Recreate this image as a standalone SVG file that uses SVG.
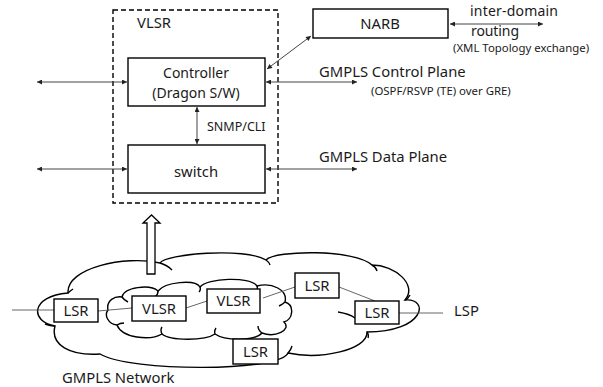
<svg xmlns="http://www.w3.org/2000/svg" width="603" height="387" viewBox="0 0 603 387">
<style>
text{font-family:"Noto Sans","Liberation Sans",sans-serif;fill:#1a1a1a}
.t14{font-size:14.8px}
.t14s{font-size:14px}
.t12{font-size:12.5px}
.t11{font-size:11.4px}
.mid{text-anchor:middle}
.box{fill:#fff;stroke:#000;stroke-width:1.4}
.conn{stroke:#444;stroke-width:1;fill:none}
.cloud{fill:#fff;stroke:#000;stroke-width:1.4}
.hook{fill:none;stroke:#000;stroke-width:1.4}
.link{stroke:#555;stroke-width:0.9;fill:none}
</style>
<defs>
<marker id="ah" viewBox="0 0 10 10" refX="10" refY="5" markerWidth="6" markerHeight="5" markerUnits="userSpaceOnUse" orient="auto-start-reverse"><path d="M0,0 L10,5 L0,10 z" fill="#222"/></marker>
</defs>

<g id="vlsr-frame">
<rect x="113" y="10" width="165" height="193" fill="none" stroke="#000" stroke-width="1.4" stroke-dasharray="5,3"/>
<text class="t14" x="137" y="28">VLSR</text>
</g>

<g id="network">
<path class="cloud" d="M55,326 C30,322 30,296 68,293 C66,268 125,255 160,263 C165,254 245,247 266,260 C275,250 355,249 372,265 C395,265 418,285 405,300 C430,298 425,332 367,332 C368,350 320,360 288,353 C280,372 130,372 100,354 C70,356 50,345 55,326 Z"/>
<path class="hook" d="M160,263 Q167,265 172,270 M68,293 Q70,291 73,289 M266,260 Q269,262 270,265 M372,265 Q376,267 377,271 M405,300 Q408,299 410,295 M338,312 Q350,314 355,318 M367,332 Q369,335 368,338 M288,353 Q291,350 292,346 M55,326 Q50,326 45,324"/>
<path class="cloud" d="M108,310 C106,300 115,296 122,297 C124,287 150,284 158,291 C165,282 195,279 200,287 C207,278 250,276 257,286 C272,282 288,290 285,302 C295,305 293,320 284,322 C292,330 275,338 262,333 C255,341 225,341 215,334 C205,341 170,341 162,334 C150,341 122,338 117,325 C108,324 104,315 108,310 Z"/>
<path class="hook" d="M122,297 Q124,300 128,302 M158,291 Q158,295 155,297 M200,287 Q201,290 199,292 M257,286 Q258,289 256,292 M285,302 Q283,304 279,306 M262,333 Q258,330 258,326 M215,334 Q214,331 216,328 M162,334 Q160,330 162,327 M117,325 Q120,323 124,323"/>
<text class="t14" x="62" y="383">GMPLS Network</text>
</g>

<g id="connectors">
<line class="conn" x1="37" y1="82" x2="127" y2="82" marker-start="url(#ah)" marker-end="url(#ah)"/>
<line class="conn" x1="37" y1="169" x2="127" y2="169" marker-start="url(#ah)" marker-end="url(#ah)"/>
<line class="conn" x1="266" y1="82" x2="357" y2="82" marker-start="url(#ah)" marker-end="url(#ah)"/>
<line class="conn" x1="266" y1="169" x2="357" y2="169" marker-start="url(#ah)" marker-end="url(#ah)"/>
<line class="conn" x1="197" y1="107" x2="197" y2="144" marker-start="url(#ah)" marker-end="url(#ah)"/>
<line class="conn" x1="267" y1="69" x2="311" y2="36" marker-start="url(#ah)" marker-end="url(#ah)"/>
<line class="conn" x1="450" y1="24" x2="543" y2="24" marker-start="url(#ah)" marker-end="url(#ah)"/>
<polygon points="147,274 147,223 143,223 151.5,215 160,223 155,223 155,274" fill="#fff" stroke="#000" stroke-width="1.3"/>
<line class="link" x1="12" y1="310" x2="54" y2="310"/>
<line class="link" x1="98" y1="311" x2="132" y2="308"/>
<line class="link" x1="186" y1="308" x2="207" y2="301"/>
<line class="link" x1="263" y1="298" x2="295" y2="287"/>
<line class="link" x1="339" y1="287" x2="375" y2="301"/>
<line class="link" x1="399" y1="313" x2="443" y2="313"/>
</g>

<g id="controller">
<rect class="box" x="128" y="58" width="137" height="48"/>
<text class="t14s mid" x="196" y="77.5">Controller</text>
<text class="t14s mid" x="196" y="97.5">(Dragon  S/W)</text>
</g>
<g id="switch">
<rect class="box" x="128" y="145" width="137" height="48"/>
<text class="t14 mid" x="196" y="177">switch</text>
</g>
<g id="snmp-label"><text class="t12" x="207" y="131">SNMP/CLI</text></g>
<g id="narb">
<rect class="box" x="313" y="9" width="135" height="29"/>
<text class="t14 mid" x="380" y="29">NARB</text>
</g>
<g id="labels">
<text class="t14s" x="470" y="16" textLength="88">inter-domain</text>
<text class="t14s" x="471" y="36" textLength="48">routing</text>
<text class="t11" x="453" y="52">(XML Topology exchange)</text>
<text class="t14" x="319" y="77">GMPLS Control Plane</text>
<text class="t11" x="371" y="95">(OSPF/RSVP (TE) over GRE)</text>
<text class="t14" x="319" y="162">GMPLS Data Plane</text>
<text class="t14" x="454" y="316">LSP</text>
</g>

<g id="lsr1"><rect class="box" x="54" y="299" width="44" height="23"/><text class="t14 mid" x="76" y="316">LSR</text></g>
<g id="vlsr1"><rect class="box" x="132" y="296" width="54" height="25"/><text class="t14 mid" x="159" y="314">VLSR</text></g>
<g id="vlsr2"><rect class="box" x="207" y="289" width="53" height="24"/><text class="t14 mid" x="233.5" y="306">VLSR</text></g>
<g id="lsr3"><rect class="box" x="295" y="273" width="44" height="25"/><text class="t14 mid" x="317" y="291">LSR</text></g>
<g id="lsr4"><rect class="box" x="355" y="301" width="44" height="23"/><text class="t14 mid" x="377" y="318">LSR</text></g>
<g id="lsr5"><rect class="box" x="233" y="339" width="45" height="25"/><text class="t14 mid" x="255.5" y="357">LSR</text></g>
</svg>
